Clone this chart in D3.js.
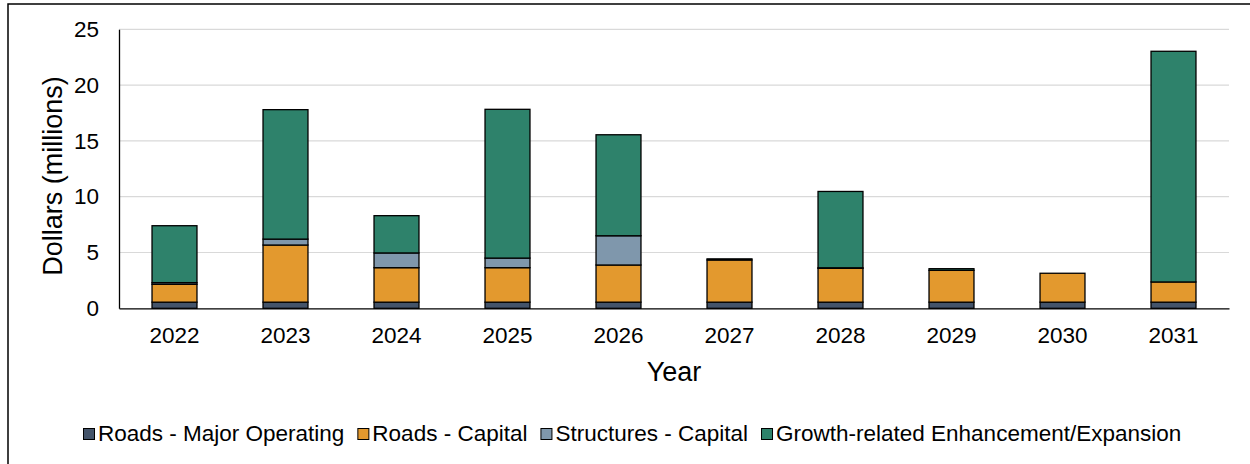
<!DOCTYPE html>
<html><head><meta charset="utf-8">
<script src="https://cdn.jsdelivr.net/npm/d3@7"></script>
<style>body{margin:0;background:#fff}svg{display:block;font-family:Arial,"Liberation Sans",sans-serif}</style>
</head><body><svg id="c" width="1250" height="464"></svg>
<script>
const years = ["2022","2023","2024","2025","2026","2027","2028","2029","2030","2031"];
const seriesNames = ["Roads - Major Operating","Roads - Capital","Structures - Capital","Growth-related Enhancement/Expansion"];
const majorOperating = [0.55,0.55,0.55,0.55,0.55,0.55,0.55,0.55,0.55,0.55];
const roadsCapital   = [1.6,5.12,3.09,3.09,3.33,3.78,3.03,2.85,2.59,1.81];
const structures     = [0.15,0.53,1.32,0.86,2.62,0,0.05,0,0,0];
const growth         = [5.1,11.6,3.34,13.33,9.05,0.1,6.84,0.15,0,20.67];
const yTicks = [0,5,10,15,20,25];
const colors = ["#44546A","#E3992E","#7F97AC","#2E826B"];

const FONT = "Arial,'Liberation Sans',sans-serif";
const svg = d3.select("#c");
svg.append("rect").attr("x",8).attr("y",4).attr("width",1260).attr("height",480)
  .attr("fill","none").attr("stroke","#000").attr("stroke-width",1.5);

const L=119,R=1229,T=29.3,B=308.3;
const x = d3.scaleBand().domain(years).range([L,R]).paddingInner(0.595).paddingOuter(0.2975);
const y = d3.scaleLinear().domain([0,25]).range([B,T]);

svg.append("g").selectAll("line").data(yTicks.filter(d=>d>0)).join("line")
  .attr("x1",L).attr("x2",R).attr("y1",d=>y(d)).attr("y2",d=>y(d))
  .attr("stroke","#d9d9d9").attr("stroke-width",1.2);

const data = years.map((yr,i)=>({year:yr,s0:majorOperating[i],s1:roadsCapital[i],s2:structures[i],s3:growth[i]}));
const stack = d3.stack().keys(["s0","s1","s2","s3"])(data);

svg.append("g").selectAll("g").data(stack).join("g").attr("fill",(d,i)=>colors[i])
  .selectAll("rect").data(d=>d.filter(p=>p[1]-p[0]>0)).join("rect")
  .attr("x",d=>x(d.data.year)).attr("width",x.bandwidth())
  .attr("y",d=>y(d[1])).attr("height",d=>y(d[0])-y(d[1]))
  .attr("stroke","#000").attr("stroke-width",1.3);

// axes
const yAxis = d3.axisLeft(y).tickValues(yTicks).tickSize(0).tickPadding(20);
const gy = svg.append("g").attr("transform",`translate(${L},0)`).call(yAxis);
gy.select(".domain").attr("stroke","#000").attr("stroke-width",1.3);
gy.selectAll("text").attr("font-size",22.5).attr("fill","#000").attr("font-family",FONT);

const xAxis = d3.axisBottom(x).tickSize(0).tickPadding(19);
const gx = svg.append("g").attr("transform",`translate(0,${B})`).call(xAxis);
gx.select(".domain").attr("stroke","#000").attr("stroke-width",1.3);
gx.selectAll("text").attr("font-size",22.5).attr("fill","#000").attr("font-family",FONT);

svg.append("text").attr("transform",`translate(62,176) rotate(-90)`)
  .attr("text-anchor","middle").attr("font-size",27).text("Dollars (millions)");
svg.append("text").attr("x",(L+R)/2).attr("y",381).attr("text-anchor","middle")
  .attr("font-size",27).text("Year");

// legend
const lg = svg.append("g").attr("font-size",22.5);
let lx = 83;
seriesNames.forEach((n,i)=>{
  lg.append("rect").attr("x",lx+0.5).attr("y",428.5).attr("width",11).attr("height",11)
    .attr("fill",colors[i]).attr("stroke","#000").attr("stroke-width",1);
  const t = lg.append("text").attr("x",lx+15).attr("y",441).text(n);
  lx += 15 + t.node().getComputedTextLength() + 13;
});
</script></body></html>
